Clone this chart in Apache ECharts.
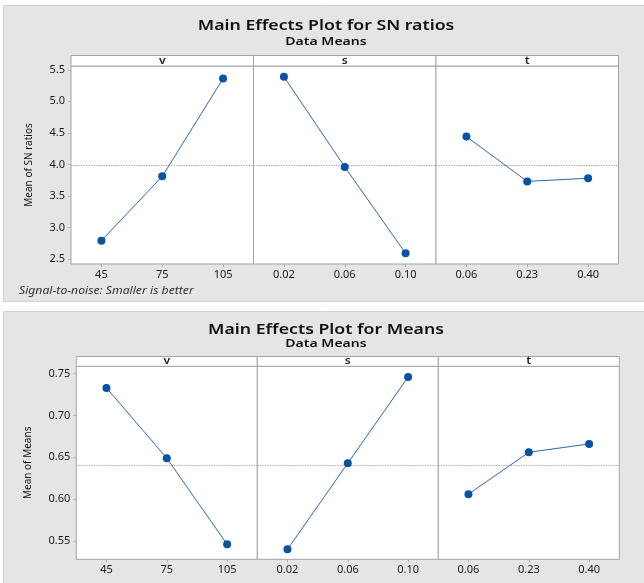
<!DOCTYPE html>
<html>
<head>
<meta charset="utf-8">
<script src="https://cdn.jsdelivr.net/npm/echarts@6/dist/echarts.min.js"></script>
<style>
  html, body { margin: 0; padding: 0; background: #ffffff; }
  #chart { width: 644px; height: 583px; }
</style>
</head>
<body>
<div id="chart"></div>
<script>
// Factor levels
const levelsV = ['45', '75', '105'];
const levelsS = ['0.02', '0.06', '0.10'];
const levelsT = ['0.06', '0.23', '0.40'];
const factorNames = ['v', 's', 't'];

// Mean of SN ratios per level
const snV = [2.79, 3.81, 5.36];
const snS = [5.39, 3.96, 2.59];
const snT = [4.44, 3.73, 3.78];
const snGrandMean = 3.98;
const snTicks = [2.5, 3.0, 3.5, 4.0, 4.5, 5.0, 5.5];

// Mean of means per level
const meanV = [0.733, 0.649, 0.546];
const meanS = [0.540, 0.643, 0.746];
const meanT = [0.606, 0.656, 0.666];
const meansGrandMean = 0.643;
const meansTicks = [0.55, 0.60, 0.65, 0.70, 0.75];

const FONT = '"Noto Sans", "Open Sans", sans-serif';
const LINE_COLOR = '#2a68b4';
const DOT_COLOR = '#0a52a3';
const FRAME_COLOR = '#a3a3a3';
const TEXT_STRETCH = 1.22;   // headings are drawn slightly widened

const chart = echarts.init(document.getElementById('chart'), null, { renderer: 'canvas' });

const grids = [], xAxes = [], yAxes = [], series = [], graphics = [];

// Background panels
graphics.push({ type: 'rect', shape: { x: 3.5, y: 5.5, width: 645, height: 296 },
  style: { fill: '#e5e5e5', stroke: '#d2d2d2', lineWidth: 1 }, z: -10 });
graphics.push({ type: 'rect', shape: { x: 3.5, y: 311.5, width: 645, height: 280 },
  style: { fill: '#e5e5e5', stroke: '#d2d2d2', lineWidth: 1 }, z: -10 });

function addTitle(title, sub, y, subY) {
  graphics.push({ type: 'text', x: 326, y: y, z: 10, scaleX: TEXT_STRETCH,
    style: { text: title, align: 'center', verticalAlign: 'middle',
      font: '600 14.5px ' + FONT, fill: '#111' } });
  graphics.push({ type: 'text', x: 326, y: subY, z: 10, scaleX: TEXT_STRETCH,
    style: { text: sub, align: 'center', verticalAlign: 'middle',
      font: '600 11.5px ' + FONT, fill: '#111' } });
}

function addBlock(cfg) {
  const height = cfg.plotBottom - cfg.plotTop;
  cfg.panels.forEach((p, i) => {
    const gi = grids.length;
    const left = cfg.lefts[i];
    grids.push({ left: left, top: cfg.plotTop, width: cfg.width, height: height,
      show: true, backgroundColor: '#ffffff', borderColor: FRAME_COLOR, borderWidth: 1 });
    xAxes.push({ type: 'category', gridIndex: gi, data: p.levels, boundaryGap: true,
      axisLine: { show: false },
      axisTick: { show: true, alignWithLabel: true, length: 3, lineStyle: { color: '#b0b0b0' } },
      axisLabel: { color: '#1a1a1a', fontFamily: FONT, fontSize: 11, margin: 5 },
      splitLine: { show: false } });
    const first = i === 0;
    yAxes.push({ type: 'value', gridIndex: gi, min: cfg.yMin, max: cfg.yMax,
      name: first ? cfg.yName : '', nameLocation: 'middle', nameGap: cfg.nameGap,
      nameTextStyle: { color: '#111', fontFamily: FONT, fontSize: 10 },
      axisLine: { show: false },
      axisTick: { show: first, length: 3, customValues: cfg.ticks, lineStyle: { color: '#b0b0b0' } },
      axisLabel: { show: first, customValues: cfg.ticks, color: '#1a1a1a', fontFamily: FONT,
        fontSize: 11, margin: 6, formatter: v => v.toFixed(cfg.decimals) },
      splitLine: { show: false } });
    series.push({ type: 'line', xAxisIndex: gi, yAxisIndex: gi, data: p.values,
      symbol: 'circle', symbolSize: 8, itemStyle: { color: DOT_COLOR },
      lineStyle: { color: LINE_COLOR, width: 1 }, z: 5,
      markLine: { silent: true, symbol: 'none', label: { show: false },
        lineStyle: { color: '#b0b0b0', type: [1.5, 1], width: 1 },
        data: [{ yAxis: cfg.grandMean }] } });
    // Strip with the factor name
    graphics.push({ type: 'rect', z: 3,
      shape: { x: left, y: cfg.stripTop, width: cfg.width, height: cfg.plotTop - cfg.stripTop },
      style: { fill: '#ffffff', stroke: FRAME_COLOR, lineWidth: 1 } });
    graphics.push({ type: 'text', z: 4, x: left + cfg.width / 2, y: (cfg.stripTop + cfg.plotTop) / 2,
      scaleX: TEXT_STRETCH,
      style: { text: p.name, align: 'center', verticalAlign: 'middle',
        font: '600 10px ' + FONT, fill: '#222' } });
  });
}

addTitle('Main Effects Plot for SN ratios', 'Data Means', 25.5, 41.3);
addBlock({
  lefts: [71, 253.5, 436], width: 182.5, stripTop: 55.5, plotTop: 66, plotBottom: 264,
  yMin: 2.42, yMax: 5.56, ticks: snTicks, decimals: 1, grandMean: snGrandMean,
  yName: 'Mean of SN ratios', nameGap: 37,
  panels: [
    { name: factorNames[0], levels: levelsV, values: snV },
    { name: factorNames[1], levels: levelsS, values: snS },
    { name: factorNames[2], levels: levelsT, values: snT }
  ]
});
graphics.push({ type: 'text', x: 19, y: 291.5, z: 10, scaleX: TEXT_STRETCH,
  style: { text: 'Signal-to-noise: Smaller is better', align: 'left', verticalAlign: 'middle',
    font: 'italic 10px ' + FONT, fill: '#333' } });

addTitle('Main Effects Plot for Means', 'Data Means', 329.8, 343.5);
addBlock({
  lefts: [76.3, 257.3, 438.3], width: 181, stripTop: 356.5, plotTop: 366.3, plotBottom: 559.3,
  yMin: 0.5281, yMax: 0.7588, ticks: meansTicks, decimals: 2, grandMean: meansGrandMean,
  yName: 'Mean of Means', nameGap: 43,
  panels: [
    { name: factorNames[0], levels: levelsV, values: meanV },
    { name: factorNames[1], levels: levelsS, values: meanS },
    { name: factorNames[2], levels: levelsT, values: meanT }
  ]
});

chart.setOption({
  animation: false,
  backgroundColor: '#ffffff',
  grid: grids,
  xAxis: xAxes,
  yAxis: yAxes,
  series: series,
  graphic: graphics
});
</script>
</body>
</html>
